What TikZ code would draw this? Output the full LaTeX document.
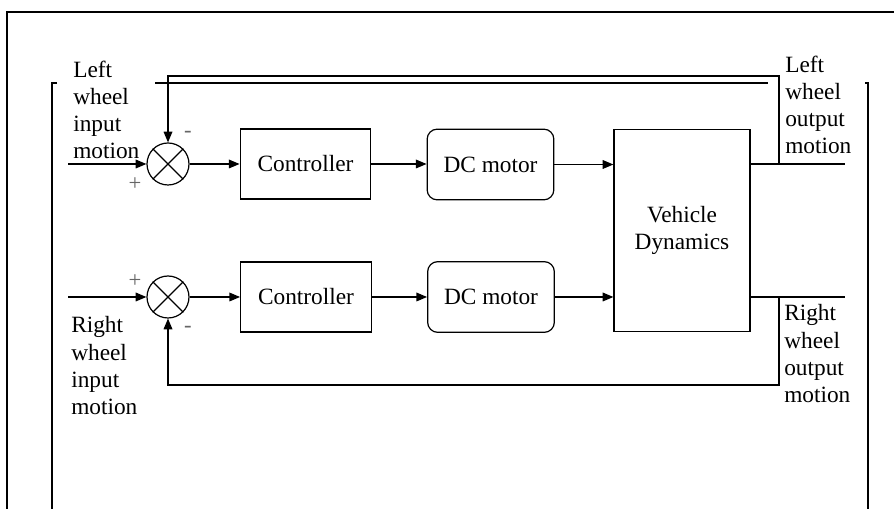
\documentclass[tikz,border=0pt]{standalone}
\usepackage{fontspec}
\setmainfont{Liberation Serif}
\usetikzlibrary{arrows.meta,positioning,calc}

\begin{document}
\begin{tikzpicture}[
  x=0.75pt, y=-0.75pt,
  every node/.style={font=\fontsize{17.5}{20.3}\selectfont},
  block/.style={draw,line width=0.9pt,minimum width=98pt,minimum height=52.5pt,inner sep=0pt},
  motor/.style={block,rounded corners=7.5pt,minimum width=95pt,minimum height=53pt},
  plant/.style={block,minimum width=102pt,minimum height=152pt,align=center},
  sum/.style={draw,circle,line width=0.9pt,minimum size=31.5pt,inner sep=0pt},
  label/.style={align=left,anchor=north west,inner sep=0pt},
  sign/.style={font=\fontsize{17}{17}\selectfont,text=black!60,inner sep=0pt},
  arr/.style={line width=0.9pt,-{Triangle[length=8pt,width=6.5pt]}},
  wire/.style={line width=0.9pt},
  frame/.style={line width=1.5pt},
]
  \useasboundingbox (0,0) rectangle (894,509);

  % frame and brackets
  \draw[frame] (7,509) -- (7,12) -- (894,12);
  \draw[frame] (57,83) -- (52,83) -- (52,509);
  \draw[frame] (865,83) -- (868,83) -- (868,509);
  \draw[frame] (155,83) -- (768,83);

  % upper loop
  \node[sum] (sum1) at (168,164) {};
  \node[block] (ctrl1) at (305.5,164) {Controller};
  \node[motor] (motor1) at (490.5,164.5) {DC motor};

  % lower loop
  \node[sum] (sum2) at (168,297) {};
  \node[block] (ctrl2) at (306,297) {Controller};
  \node[motor] (motor2) at (491,297) {DC motor};

  \node[plant] (vd) at (682,230.5) {Vehicle\\Dynamics};

  \foreach \s in {sum1,sum2} {
    \draw[wire] (\s.north west) -- (\s.south east);
    \draw[wire] (\s.north east) -- (\s.south west);
  }

  % labels
  \node[label] (lin) at (73,60.5) {Left\\wheel\\input\\motion};
  \node[label] (rin) at (71,316.5) {Right\\wheel\\input\\motion};
  \node[label] (lout) at (785,55.5) {Left\\wheel\\output\\motion};
  \node[label] (rout) at (784,304.5) {Right\\wheel\\output\\motion};

  \node[sign] at (135,184) {+};
  \node[sign] at (188,134) {-};
  \node[sign] at (135,281) {+};
  \node[sign] at (188,329) {-};

  % signal path
  \coordinate (in1) at (68,164);
  \coordinate (in2) at (68,297);
  \coordinate (out1) at (845,164);
  \coordinate (out2) at (845,297);
  \coordinate (fb1) at (779,76);
  \coordinate (fb2) at (779,385);

  \draw[arr] (in1) -- (sum1);
  \draw[arr] (sum1) -- (ctrl1);
  \draw[arr] (ctrl1) -- (ctrl1 -| motor1.west);
  \draw[arr] (motor1) -- (motor1 -| vd.west);
  \draw[wire] (vd.east |- out1) -- (out1);
  \draw[arr] (fb1 |- out1) -- (fb1) -| (sum1.north);

  \draw[arr] (in2) -- (sum2);
  \draw[arr] (sum2) -- (ctrl2);
  \draw[arr] (ctrl2) -- (motor2);
  \draw[arr] (motor2) -- (motor2 -| vd.west);
  \draw[wire] (vd.east |- out2) -- (out2);
  \draw[arr] (fb2 |- out2) -- (fb2) -| (sum2.south);
\end{tikzpicture}
\end{document}
